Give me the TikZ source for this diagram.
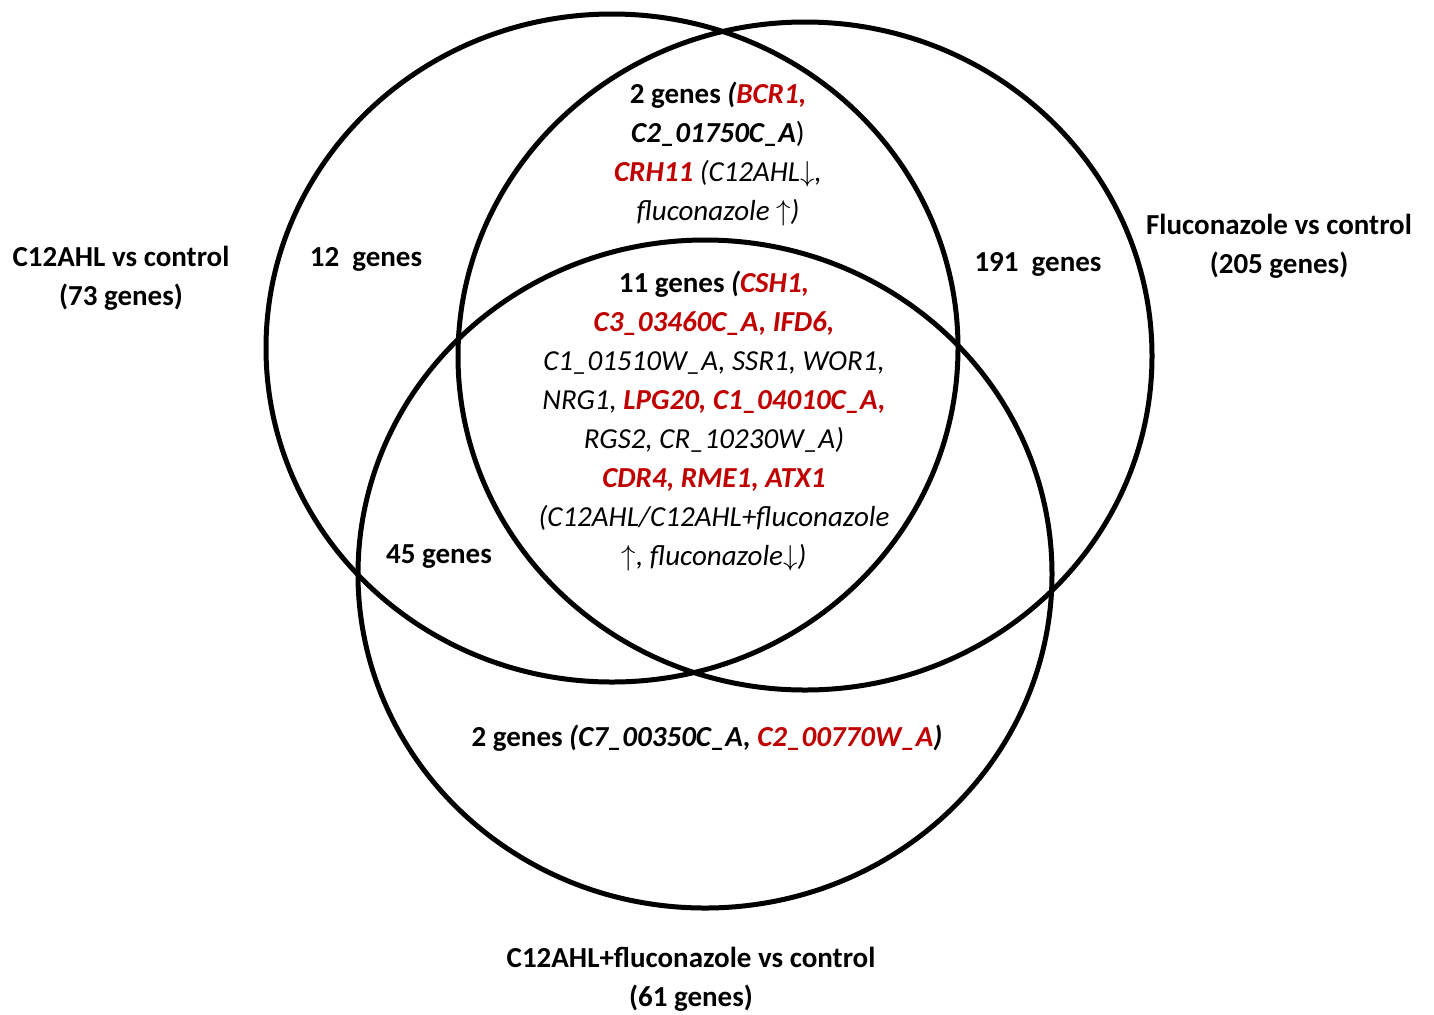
\documentclass[tikz,border=0pt]{standalone}
\usepackage{fontspec}
\setmainfont{Carlito}
\definecolor{genered}{RGB}{192,0,0}
\newcommand{\labelsize}{\fontsize{14.5}{19.5}\selectfont}
\tikzstyle{set}=[line width=2.5pt]
\tikzstyle{count}=[font=\labelsize\bfseries, align=center]
\tikzstyle{genelist}=[font=\labelsize, align=center]
\newcommand{\up}{$\uparrow$}
\newcommand{\down}{$\downarrow$}
\newcommand{\hit}[1]{\textcolor{genered}{\textbf{\textit{#1}}}}

\begin{document}
\begin{tikzpicture}[x=0.5pt, y=-0.5pt, inner sep=0pt]
  \useasboundingbox (0,0) rectangle (1434,1014);
  % the three sets
  \draw[set] (612,348) ellipse [x radius=346, y radius=334];
  \draw[set] (805,356) ellipse [x radius=347, y radius=334];
  \draw[set] (705,574) ellipse [x radius=347, y radius=334];
  % set names
  \node[count] (ahl) at (121,278) {C12AHL vs control\\(73 genes)};
  \node[count] (flu) at (1279,246) {Fluconazole vs control\\(205 genes)};
  \node[count] (combo) at (691,979) {C12AHL+fluconazole vs control\\(61 genes)};
  % counts
  \node[count] (ahlonly) at (366,259) {12~~genes};
  \node[count] (fluonly) at (1038,264) {191~~genes};
  \node[count] (ahlcombo) at (439,557) {45 genes};
  \node[genelist] (ahlflu) at (718,154)
    {\textbf{2 genes \textit{(}}\hit{BCR1,}\\
     \textbf{\textit{C2\_01750C\_A}})\\
     \hit{CRH11} \textit{(C12AHL\down,}\\
     \textit{fluconazole \up)}};
  \node[genelist] (core) at (714,421)
    {\textbf{11 genes \textit{(}}\hit{CSH1,}\\
     \hit{C3\_03460C\_A, IFD6,}\\
     \textit{C1\_01510W\_A, SSR1, WOR1,}\\
     \textit{NRG1,} \hit{LPG20, C1\_04010C\_A,}\\
     \textit{RGS2, CR\_10230W\_A)}\\
     \hit{CDR4, RME1, ATX1}\\
     \textit{(C12AHL/C12AHL+fluconazole}\\
     \up\textit{, fluconazole}\down\textit{)}};
  \node[genelist] (flucombo) at (707,738)
    {\textbf{2 genes \textit{(C7\_00350C\_A,} }\hit{C2\_00770W\_A}\textbf{\textit{)}}};
\end{tikzpicture}
\end{document}
